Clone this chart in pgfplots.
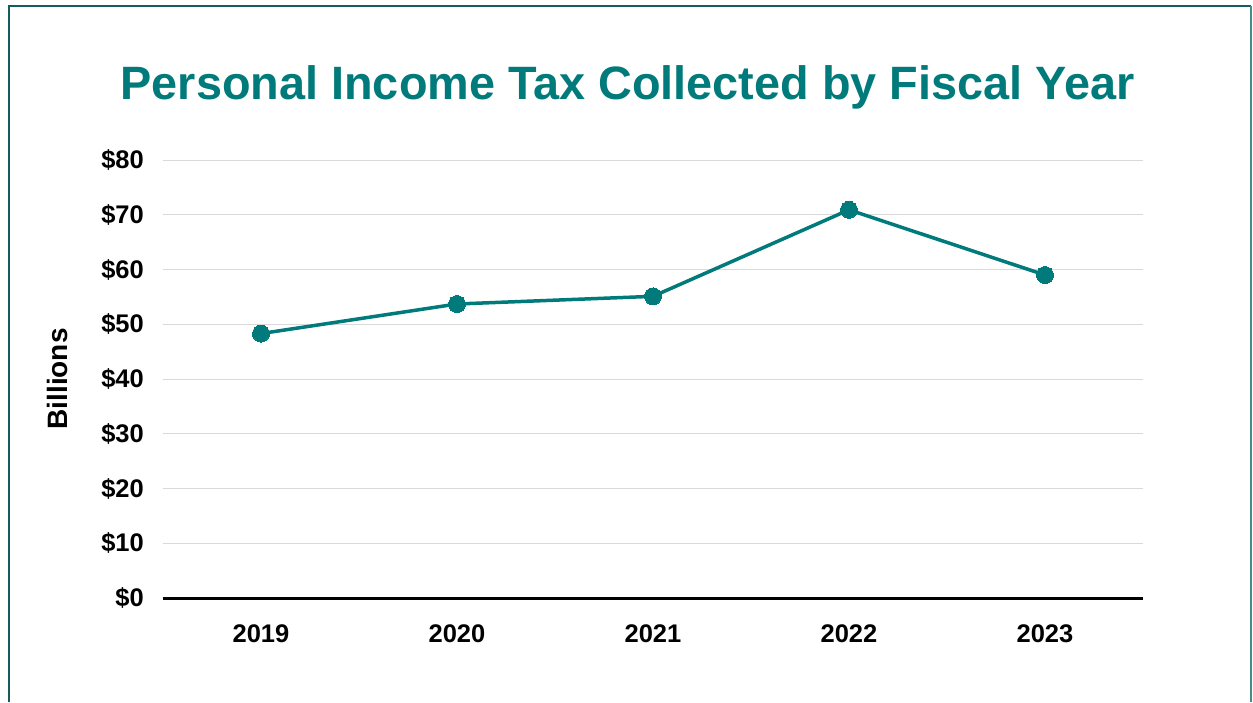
\documentclass[border=0pt]{standalone}
\usepackage{pgfplots}
\pgfplotsset{compat=1.18}
\usepackage{fontspec}
\setmainfont{Liberation Sans}
\definecolor{tealmain}{RGB}{0,122,122}
\definecolor{framedark}{RGB}{22,92,92}
\definecolor{framelight}{RGB}{70,140,140}
\definecolor{gridgray}{RGB}{217,217,217}
\begin{document}
\begin{tikzpicture}[x=1pt,y=1pt]
\useasboundingbox (0,0) rectangle (1253,702);
\draw[framedark, line width=2.2pt] (9,0) -- (9,696) -- (1251,696);
\draw[framelight, line width=1.4pt] (1251,696) -- (1251,0);
\begin{axis}[
  at={(163pt,104pt)}, anchor=south west,
  scale only axis, width=980pt, height=438pt,
  xmin=-0.5, xmax=4.5, ymin=0, ymax=80,
  axis x line*=bottom, axis y line*=left,
  x axis line style={black, line width=3pt, -},
  y axis line style={draw=none},
  xtick={0,1,2,3,4},
  xticklabels={2019,2020,2021,2022,2023},
  ytick={0,10,...,80},
  yticklabels={\$0,\$10,\$20,\$30,\$40,\$50,\$60,\$70,\$80},
  ymajorgrids, grid style={gridgray, line width=1pt},
  major tick length=0pt,
  /pgf/number format/assume math mode=true,
  tick label style={font=\fontsize{25.5}{30}\selectfont\bfseries, text=black},
  xticklabel style={anchor=north, inner sep=0pt, yshift=-26pt},
  yticklabel style={anchor=east, inner sep=0pt, xshift=-19pt},
  ylabel={Billions},
  ylabel style={at={(axis description cs:-0.108,0.5)}, anchor=center, font=\fontsize{28}{32}\selectfont\bfseries},
  title={Personal Income Tax Collected by Fiscal Year},
  title style={at={(axis description cs:0.474,1.151)}, anchor=center, font=\fontsize{46.8}{56}\selectfont\bfseries, text=tealmain},
  clip=false,
]
\addplot[tealmain, line width=3.5pt, mark=*, mark size=8.5pt, mark options={fill=tealmain, draw=tealmain, line width=0pt}]
  coordinates {(0,48.3) (1,53.7) (2,55.1) (3,70.9) (4,59.0)};
\end{axis}
\end{tikzpicture}
\end{document}
